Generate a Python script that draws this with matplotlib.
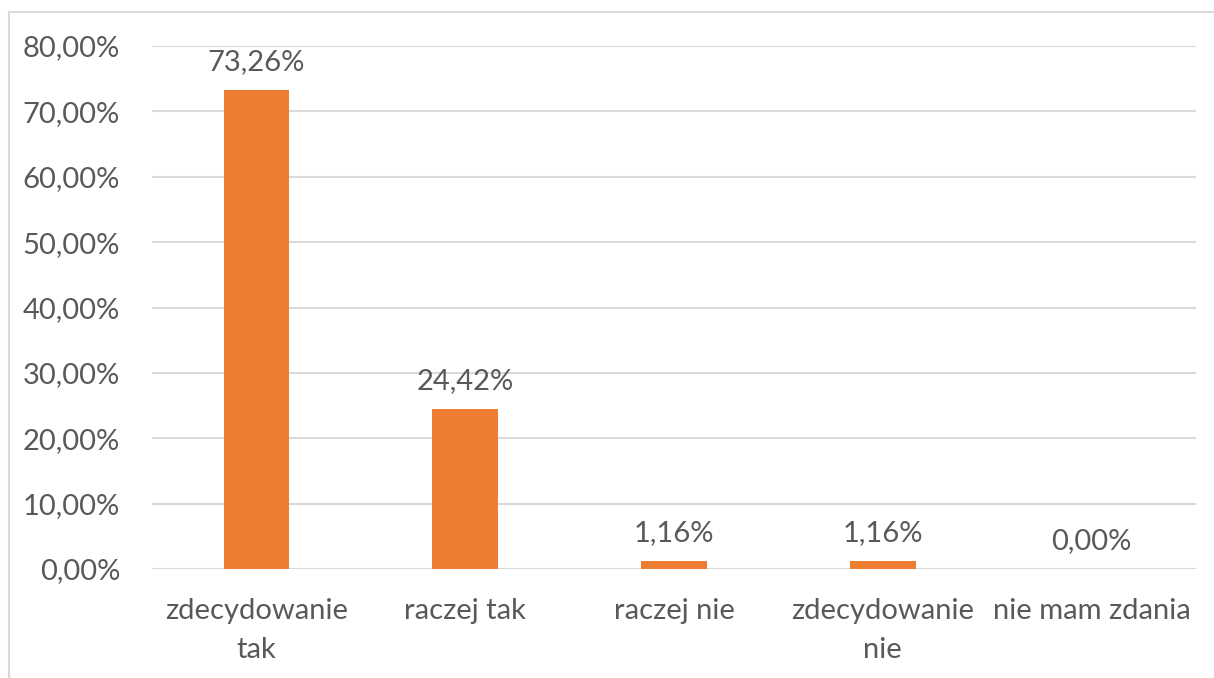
import matplotlib
matplotlib.use("Agg")
import matplotlib.pyplot as plt
from matplotlib.patches import Rectangle

categories = ["zdecydowanie\ntak", "raczej tak", "raczej nie", "zdecydowanie\nnie", "nie mam zdania"]
values = [73.26, 24.42, 1.16, 1.16, 0.00]
yticks = [0, 10, 20, 30, 40, 50, 60, 70, 80]

W, H = 1214, 678
fig = plt.figure(figsize=(W / 100, H / 100), dpi=100)
plt.rcParams['font.family'] = ['Lato', 'DejaVu Sans']
txt = '#595959'
fs = 21

# outer chart border (cropped at right and bottom)
fig.patches.append(Rectangle((9 / W, -0.05), 1.2, (H - 12) / H + 0.05, transform=fig.transFigure,
                             fill=False, edgecolor='#d9d9d9', linewidth=1.5))

x0, x1 = 152, 1196
y0, y1 = 569, 46
ax = fig.add_axes([x0 / W, 1 - y0 / H, (x1 - x0) / W, (y0 - y1) / H])
ax.set_xlim(-0.5, 4.5)
ax.set_ylim(0, 80)

ax.bar(range(len(values)), values, width=0.315, color='#ed7d31', zorder=3)
for i, v in enumerate(values):
    ax.annotate(f"{v:.2f}%".replace('.', ','), (i, v), xytext=(0, 11), textcoords='offset points',
                ha='center', va='bottom', fontsize=fs, color=txt)

ax.set_yticks(yticks)
ax.set_yticklabels([f"{t:.2f}%".replace('.', ',') for t in yticks], fontsize=fs, color=txt)
ax.set_xticks(range(len(categories)))
ax.set_xticklabels(categories, fontsize=fs, color=txt, linespacing=1.6)
ax.tick_params(axis='both', length=0)
ax.tick_params(axis='y', pad=23)
ax.tick_params(axis='x', pad=21)
ax.grid(axis='y', color='#d9d9d9', linewidth=1.5, zorder=0)
for s in ax.spines.values():
    s.set_visible(False)

fig.savefig("out.png", dpi=100)
